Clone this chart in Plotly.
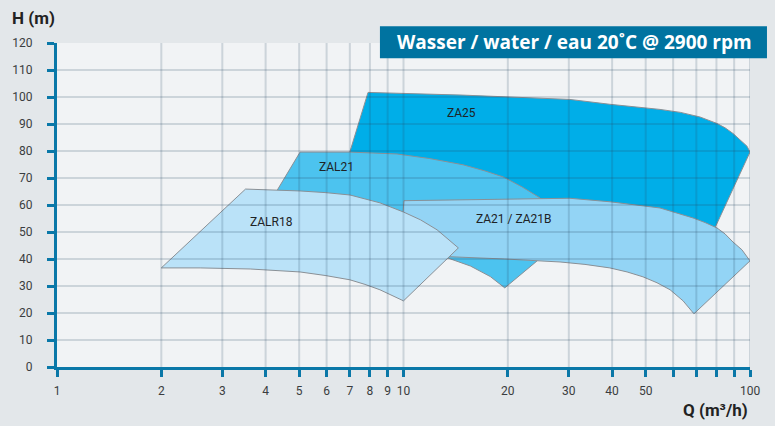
import math
import plotly.graph_objects as go

# ===== DATA =====
# outlines of the pump ranges, Q in m3/h, H in m
za25_q = [7.0, 7.9, 14.85, 30.2, 39.4, 55.0, 63.0, 71.7, 80.3, 84.7, 89.3, 94.2, 98.0, 100,
          79.3, 72, 30, 12, 7.0]
za25_h = [79.6, 101.7, 100.7, 99.1, 97.3, 95.4, 94.3, 92.6, 90.2, 88.6, 86.5, 84.0, 81.8, 79.6,
          51.9, 40, 45, 55, 79.6]

zal21_q = [3.44, 4.34, 5.03, 7.0, 9.58, 11.9, 14.85, 17.2, 19.4, 22.0, 24.8, 30.6,
           24.3, 19.6, 17.8, 15.6, 13.4, 8.0, 3.44]
zal21_h = [43.3, 65.9, 79.6, 79.6, 78.9, 77.2, 74.9, 72.6, 70.4, 66.7, 62.6, 50.0,
           39.3, 29.3, 33.5, 37.4, 40.4, 45.0, 43.3]

za21_q = [10.03, 16.6, 30.2, 39.4, 55.0, 68.5, 74.2, 80.3, 84.7, 89.3, 94.8, 100,
          68.9, 64.1, 58.8, 53.9, 49.1, 44.2, 39.4, 33.4, 28.3, 19.6, 13.4, 9.77, 10.03]
za21_h = [61.6, 62.0, 62.5, 61.2, 58.9, 55.2, 53.5, 51.5, 49.3, 46.3, 43.4, 39.3,
          19.7, 24.5, 28.6, 31.2, 33.4, 35.2, 36.7, 38.0, 38.9, 40.0, 40.8, 41.6, 61.6]

zalr18_q = [2.0, 3.5, 5.03, 5.94, 7.01, 8.55, 10.0, 11.2, 12.5, 13.4, 14.4,
            10.0, 9.26, 8.55, 7.74, 7.0, 5.94, 5.03, 3.61, 2.59, 2.0]
zalr18_h = [36.7, 65.9, 65.2, 64.6, 63.7, 60.8, 57.4, 54.5, 50.8, 47.6, 44.1,
            24.5, 26.5, 28.6, 30.6, 32.3, 33.9, 35.2, 36.3, 36.7, 36.7]

# label name, Q, H
label_names = ['ZA25', 'ZAL21', 'ZA21 / ZA21B', 'ZALR18']
label_q = [14.7, 6.4, 20.8, 4.17]
label_h = [94.0, 74.0, 54.8, 53.7]

x_tickvals = [1, 2, 3, 4, 5, 6, 7, 8, 9, 10, 20, 30, 40, 50, 60, 70, 80, 90, 100]
x_ticktext = ['1', '2', '3', '4', '5', '6', '7', '8', '9', '10', '20', '30', '40', '50', '', '', '', '', '100']
y_tickvals = list(range(0, 130, 10))

title_text = 'Wasser / water / eau 20˚C @ 2900 rpm'

# ===== STYLE =====
AXIS_BLUE = '#0a78a8'
BOX_BLUE = '#0073a0'
OUTLINE = '#8a9096'
FONT = 'Roboto, DejaVu Sans, sans-serif'

fig = go.Figure()

shapes_data = [
    (za25_q, za25_h, '#00aee8'),
    (zal21_q, zal21_h, '#4cc3ef'),
    (za21_q, za21_h, '#93d4f5'),
    (zalr18_q, zalr18_h, '#bae2f8'),
]
for q, h, col in shapes_data:
    fig.add_trace(go.Scatter(
        x=q, y=h, mode='lines', fill='toself', fillcolor=col,
        line=dict(color=OUTLINE, width=1), hoverinfo='skip', showlegend=False))

# grid drawn on top of the fills (shows through like in the original)
gx, gy = [], []
for v in x_tickvals[1:]:
    gx += [v, v, None]
    gy += [0, 120, None]
for v in y_tickvals[1:-1]:
    gx += [1, 100, None]
    gy += [v, v, None]
fig.add_trace(go.Scatter(x=gx, y=gy, mode='lines', line=dict(color='rgba(40,70,100,0.18)', width=2),
                         hoverinfo='skip', showlegend=False))

# labels (log axis -> annotations take log10 of x)
for name, q, h in zip(label_names, label_q, label_h):
    fig.add_annotation(x=math.log10(q), y=h, text=name, showarrow=False,
                       font=dict(family=FONT, size=12, color='#1e2326'))

fig.update_layout(
    width=775, height=426,
    paper_bgcolor='#e3e7ea', plot_bgcolor='#f1f3f5',
    margin=dict(l=57, r=25, t=43, b=59),
    font=dict(family=FONT, size=12, color='#3a3d40'),
    showlegend=False,
)
fig.update_xaxes(type='log', range=[0, 2], tickvals=x_tickvals, ticktext=x_ticktext,
                 showgrid=False, zeroline=False, showline=True, linecolor=AXIS_BLUE, linewidth=3,
                 ticks='outside', ticklen=7, tickwidth=3, tickcolor=AXIS_BLUE, ticklabelstandoff=4,
                 fixedrange=True)
fig.update_yaxes(range=[0, 120], tickvals=y_tickvals,
                 showgrid=False, zeroline=False, showline=True, linecolor=AXIS_BLUE, linewidth=3,
                 ticks='outside', ticklen=7, tickwidth=3, tickcolor=AXIS_BLUE, ticklabelstandoff=12,
                 fixedrange=True)

# title box
fig.add_shape(type='rect', xref='paper', yref='paper', x0=0.466, x1=1.0245, y0=0.953, y1=1.0515,
              fillcolor=BOX_BLUE, line=dict(width=0), layer='above')
fig.add_annotation(xref='paper', yref='paper', x=0.747, y=1.002, xanchor='center', yanchor='middle',
                   text=title_text, showarrow=False,
                   font=dict(family='Open Sans, Roboto, sans-serif', size=19, color='white', weight='bold'))

# axis titles
fig.add_annotation(xref='paper', yref='paper', x=-0.068, y=1.077, xanchor='left', yanchor='middle',
                   text='H (m)', showarrow=False,
                   font=dict(family=FONT, size=17, color='#222', weight='bold'))
fig.add_annotation(xref='paper', yref='paper', x=1.0, y=-0.132, xanchor='right', yanchor='middle',
                   text='Q (m³/h)', showarrow=False,
                   font=dict(family=FONT, size=17, color='#222', weight='bold'))

fig.write_html('out.html', config={'displayModeBar': False},
               post_script="document.body.style.margin='0';")
